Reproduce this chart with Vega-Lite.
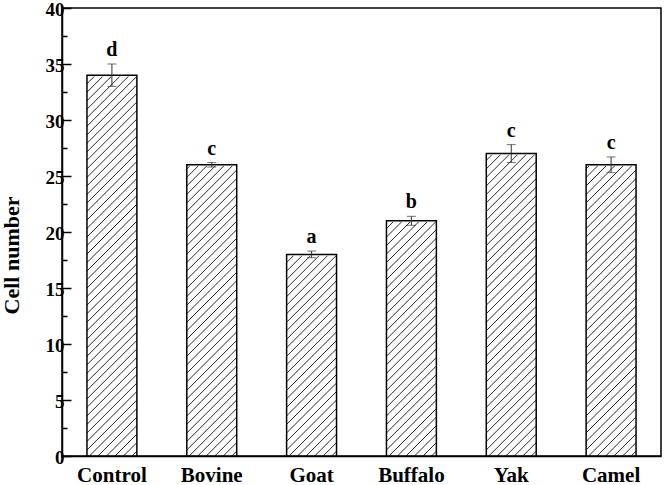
{
  "$schema": "https://vega.github.io/schema/vega-lite/v6.json",
  "width": 599,
  "height": 448,
  "autosize": {"type": "none"},
  "padding": {"left": 62, "top": 8, "right": 5, "bottom": 29},
  "background": "white",
  "config": {
    "view": {"stroke": "black", "strokeWidth": 1.5},
    "font": "Liberation Serif"
  },
  "data": {
    "values": [
      {"group": "Control", "mean": 34, "lo": 33, "hi": 35, "letter": "d"},
      {"group": "Bovine", "mean": 26, "lo": 25.8, "hi": 26.2, "letter": "c"},
      {"group": "Goat", "mean": 18, "lo": 17.7, "hi": 18.3, "letter": "a"},
      {"group": "Buffalo", "mean": 21, "lo": 20.6, "hi": 21.4, "letter": "b"},
      {"group": "Yak", "mean": 27, "lo": 26.2, "hi": 27.8, "letter": "c"},
      {"group": "Camel", "mean": 26, "lo": 25.3, "hi": 26.7, "letter": "c"}
    ]
  },
  "encoding": {
    "x": {
      "field": "group",
      "type": "nominal",
      "sort": null,
      "scale": {"paddingInner": 0.5, "paddingOuter": 0.25},
      "axis": {
        "title": null,
        "labelAngle": 0,
        "labelFont": "Liberation Serif",
        "labelFontWeight": "bold",
        "labelFontSize": 21,
        "labelColor": "black",
        "labelPadding": 8,
        "ticks": false,
        "domain": true,
        "domainColor": "black",
        "domainWidth": 1.5,
        "zindex": 1
      }
    }
  },
  "resolve": {"axis": {"y": "independent"}},
  "layer": [
    {
      "mark": {
        "type": "bar",
        "strokeWidth": 0,
        "fill": {
          "gradient": "linear",
          "x1": 0, "y1": 0, "x2": 0.1257, "y2": 1.0999,
          "stops": [
            {"offset":0.008,"color":"white"},{"offset":0.01,"color":"#222"},{"offset":0.012,"color":"white"},
            {"offset":0.0255,"color":"white"},{"offset":0.0275,"color":"#222"},{"offset":0.0295,"color":"white"},
            {"offset":0.043,"color":"white"},{"offset":0.045,"color":"#222"},{"offset":0.047,"color":"white"},
            {"offset":0.0605,"color":"white"},{"offset":0.0625,"color":"#222"},{"offset":0.0645,"color":"white"},
            {"offset":0.078,"color":"white"},{"offset":0.08,"color":"#222"},{"offset":0.082,"color":"white"},
            {"offset":0.0955,"color":"white"},{"offset":0.0975,"color":"#222"},{"offset":0.0995,"color":"white"},
            {"offset":0.113,"color":"white"},{"offset":0.115,"color":"#222"},{"offset":0.117,"color":"white"},
            {"offset":0.1305,"color":"white"},{"offset":0.1325,"color":"#222"},{"offset":0.1345,"color":"white"},
            {"offset":0.148,"color":"white"},{"offset":0.15,"color":"#222"},{"offset":0.152,"color":"white"},
            {"offset":0.1655,"color":"white"},{"offset":0.1675,"color":"#222"},{"offset":0.1695,"color":"white"},
            {"offset":0.183,"color":"white"},{"offset":0.185,"color":"#222"},{"offset":0.187,"color":"white"},
            {"offset":0.2005,"color":"white"},{"offset":0.2025,"color":"#222"},{"offset":0.2045,"color":"white"},
            {"offset":0.218,"color":"white"},{"offset":0.22,"color":"#222"},{"offset":0.222,"color":"white"},
            {"offset":0.2355,"color":"white"},{"offset":0.2375,"color":"#222"},{"offset":0.2395,"color":"white"},
            {"offset":0.253,"color":"white"},{"offset":0.255,"color":"#222"},{"offset":0.257,"color":"white"},
            {"offset":0.2705,"color":"white"},{"offset":0.2725,"color":"#222"},{"offset":0.2745,"color":"white"},
            {"offset":0.288,"color":"white"},{"offset":0.29,"color":"#222"},{"offset":0.292,"color":"white"},
            {"offset":0.3055,"color":"white"},{"offset":0.3075,"color":"#222"},{"offset":0.3095,"color":"white"},
            {"offset":0.323,"color":"white"},{"offset":0.325,"color":"#222"},{"offset":0.327,"color":"white"},
            {"offset":0.3405,"color":"white"},{"offset":0.3425,"color":"#222"},{"offset":0.3445,"color":"white"},
            {"offset":0.358,"color":"white"},{"offset":0.36,"color":"#222"},{"offset":0.362,"color":"white"},
            {"offset":0.3755,"color":"white"},{"offset":0.3775,"color":"#222"},{"offset":0.3795,"color":"white"},
            {"offset":0.393,"color":"white"},{"offset":0.395,"color":"#222"},{"offset":0.397,"color":"white"},
            {"offset":0.4105,"color":"white"},{"offset":0.4125,"color":"#222"},{"offset":0.4145,"color":"white"},
            {"offset":0.428,"color":"white"},{"offset":0.43,"color":"#222"},{"offset":0.432,"color":"white"},
            {"offset":0.4455,"color":"white"},{"offset":0.4475,"color":"#222"},{"offset":0.4495,"color":"white"},
            {"offset":0.463,"color":"white"},{"offset":0.465,"color":"#222"},{"offset":0.467,"color":"white"},
            {"offset":0.4805,"color":"white"},{"offset":0.4825,"color":"#222"},{"offset":0.4845,"color":"white"},
            {"offset":0.498,"color":"white"},{"offset":0.5,"color":"#222"},{"offset":0.502,"color":"white"},
            {"offset":0.5155,"color":"white"},{"offset":0.5175,"color":"#222"},{"offset":0.5195,"color":"white"},
            {"offset":0.533,"color":"white"},{"offset":0.535,"color":"#222"},{"offset":0.537,"color":"white"},
            {"offset":0.5505,"color":"white"},{"offset":0.5525,"color":"#222"},{"offset":0.5545,"color":"white"},
            {"offset":0.568,"color":"white"},{"offset":0.57,"color":"#222"},{"offset":0.572,"color":"white"},
            {"offset":0.5855,"color":"white"},{"offset":0.5875,"color":"#222"},{"offset":0.5895,"color":"white"},
            {"offset":0.603,"color":"white"},{"offset":0.605,"color":"#222"},{"offset":0.607,"color":"white"},
            {"offset":0.6205,"color":"white"},{"offset":0.6225,"color":"#222"},{"offset":0.6245,"color":"white"},
            {"offset":0.638,"color":"white"},{"offset":0.64,"color":"#222"},{"offset":0.642,"color":"white"},
            {"offset":0.6555,"color":"white"},{"offset":0.6575,"color":"#222"},{"offset":0.6595,"color":"white"},
            {"offset":0.673,"color":"white"},{"offset":0.675,"color":"#222"},{"offset":0.677,"color":"white"},
            {"offset":0.6905,"color":"white"},{"offset":0.6925,"color":"#222"},{"offset":0.6945,"color":"white"},
            {"offset":0.708,"color":"white"},{"offset":0.71,"color":"#222"},{"offset":0.712,"color":"white"},
            {"offset":0.7255,"color":"white"},{"offset":0.7275,"color":"#222"},{"offset":0.7295,"color":"white"},
            {"offset":0.743,"color":"white"},{"offset":0.745,"color":"#222"},{"offset":0.747,"color":"white"},
            {"offset":0.7605,"color":"white"},{"offset":0.7625,"color":"#222"},{"offset":0.7645,"color":"white"},
            {"offset":0.778,"color":"white"},{"offset":0.78,"color":"#222"},{"offset":0.782,"color":"white"},
            {"offset":0.7955,"color":"white"},{"offset":0.7975,"color":"#222"},{"offset":0.7995,"color":"white"},
            {"offset":0.813,"color":"white"},{"offset":0.815,"color":"#222"},{"offset":0.817,"color":"white"},
            {"offset":0.8305,"color":"white"},{"offset":0.8325,"color":"#222"},{"offset":0.8345,"color":"white"},
            {"offset":0.848,"color":"white"},{"offset":0.85,"color":"#222"},{"offset":0.852,"color":"white"},
            {"offset":0.8655,"color":"white"},{"offset":0.8675,"color":"#222"},{"offset":0.8695,"color":"white"},
            {"offset":0.883,"color":"white"},{"offset":0.885,"color":"#222"},{"offset":0.887,"color":"white"},
            {"offset":0.9005,"color":"white"},{"offset":0.9025,"color":"#222"},{"offset":0.9045,"color":"white"},
            {"offset":0.918,"color":"white"},{"offset":0.92,"color":"#222"},{"offset":0.922,"color":"white"},
            {"offset":0.9355,"color":"white"},{"offset":0.9375,"color":"#222"},{"offset":0.9395,"color":"white"},
            {"offset":0.953,"color":"white"},{"offset":0.955,"color":"#222"},{"offset":0.957,"color":"white"},
            {"offset":0.9705,"color":"white"},{"offset":0.9725,"color":"#222"},{"offset":0.9745,"color":"white"},
            {"offset":0.988,"color":"white"},{"offset":0.99,"color":"#222"},{"offset":0.992,"color":"white"}
          ]
        }
      },
      "encoding": {
        "y": {"datum": 39, "type": "quantitative", "scale": {"domain": [0, 40], "nice": false}, "axis": null},
        "y2": {"datum": 0}
      }
    },
    {
      "mark": {"type": "bar", "fill": "white", "stroke": "white", "strokeWidth": 2.5},
      "encoding": {
        "y": {
          "field": "mean",
          "type": "quantitative",
          "scale": {"domain": [0, 40], "nice": false},
          "axis": {
            "orient": "left",
            "values": [2.5, 7.5, 12.5, 17.5, 22.5, 27.5, 32.5, 37.5],
            "labels": false,
            "domain": false,
            "grid": false,
            "title": null,
            "tickSize": -5,
            "tickWidth": 1.5,
            "tickColor": "black",
            "zindex": 1
          }
        },
        "y2": {"datum": 39}
      }
    },
    {
      "mark": {"type": "bar", "fill": "white", "fillOpacity": 0, "stroke": "black", "strokeWidth": 1.5},
      "encoding": {
        "y": {
          "field": "mean",
          "type": "quantitative",
          "scale": {"domain": [0, 40], "nice": false},
          "axis": {
            "orient": "left",
            "values": [0, 5, 10, 15, 20, 25, 30, 35, 40],
            "grid": false,
            "title": "Cell number",
            "titleFont": "Liberation Serif",
            "titleFontWeight": "bold",
            "titleFontSize": 22,
            "titleColor": "black",
            "titleX": -39,
            "titleY": 247,
            "labelFont": "Liberation Serif",
            "labelFontWeight": "bold",
            "labelFontSize": 19,
            "labelColor": "black",
            "labelPadding": 7,
            "labelOffset": 1.5,
            "tickSize": -9,
            "tickWidth": 1.5,
            "tickColor": "black",
            "domain": true,
            "domainColor": "black",
            "domainWidth": 1.5,
            "zindex": 1
          }
        }
      }
    },
    {
      "mark": {"type": "rule", "color": "#333", "strokeWidth": 1},
      "encoding": {
        "y": {"field": "lo", "type": "quantitative", "axis": null},
        "y2": {"field": "hi"}
      }
    },
    {
      "mark": {"type": "tick", "color": "#333", "thickness": 1, "size": 9},
      "encoding": {
        "y": {"field": "lo", "type": "quantitative", "axis": null}
      }
    },
    {
      "mark": {"type": "tick", "color": "#333", "thickness": 1, "size": 9},
      "encoding": {
        "y": {"field": "hi", "type": "quantitative", "axis": null}
      }
    },
    {
      "mark": {"type": "text", "font": "Liberation Serif", "fontWeight": "bold", "fontSize": 20, "color": "black", "dy": -8, "baseline": "alphabetic"},
      "encoding": {
        "y": {"field": "hi", "type": "quantitative", "axis": null},
        "text": {"field": "letter"}
      }
    }
  ]
}
